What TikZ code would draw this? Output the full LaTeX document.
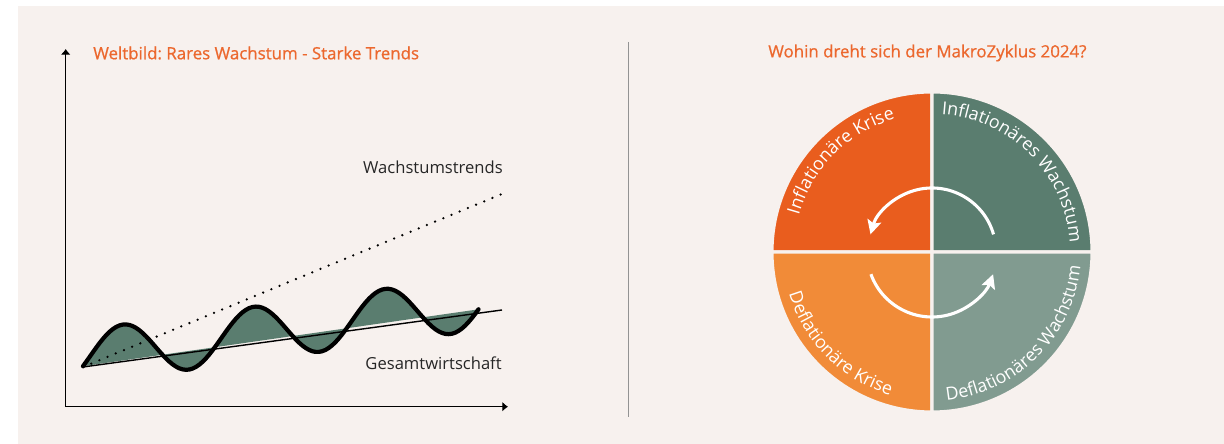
\documentclass[tikz,border=0pt]{standalone}
\usepackage{fontspec}
\setmainfont{Open Sans}
\newfontfamily\headfont[FakeBold=0.8]{Open Sans}
\usetikzlibrary{arrows.meta,decorations.text}
\frenchspacing

\definecolor{paper}{RGB}{247,241,238}
\definecolor{titleorange}{RGB}{236,104,46}
\definecolor{ink}{RGB}{38,38,38}
\definecolor{sage}{RGB}{90,125,111}
\definecolor{crisisred}{RGB}{233,93,30}
\definecolor{crisisorange}{RGB}{241,139,56}
\definecolor{paleSage}{RGB}{129,155,144}

\newcommand\ringfont{\fontsize{12.7}{14}\selectfont\color{white}}

\begin{document}
\begin{tikzpicture}[x=0.025cm, y=0.025cm,
    axis/.style={line width=1pt, -{Latex[length=4pt,width=7pt]}},
    heading/.style={text=titleorange, font=\headfont\fontsize{12}{14}\selectfont, anchor=west, inner sep=0pt},
    caption/.style={text=ink, font=\fontsize{11.8}{14}\selectfont, anchor=east, inner sep=0pt},
    quarter/.style={draw=paper, line width=2.2pt},
    cycle arrow/.style={white, line width=2.2pt, -{Stealth[length=10pt,width=10pt,inset=2pt]}},
    ringtext/.style={decoration={text along path, text align=center, text={|\ringfont|#1}}, decorate}]
  \useasboundingbox (0,0) rectangle (1224,444);
  \fill[paper] (18,0) rectangle (1224,438);

  % left: growth chart
  \coordinate (origin) at (65.7,37.3);
  \coordinate (start) at (83,77);
  \draw[axis] (origin) -- (65.7,395);
  \draw[axis] (origin) -- (508,37.3);
  \fill[sage] plot[domain=83:478.5, samples=120] (\x,{87+0.136*(\x-83)+27*sin(90+2.748*(\x-123))}) -- cycle;
  \draw[line width=1pt] (start) -- (502,134);
  \draw[line width=1.8pt, line cap=round, dash pattern=on 0pt off 6.3pt] (start) -- (502,250);
  \draw[line width=3pt, line cap=round, line join=round] plot[domain=83:478.5, samples=120] (\x,{87+0.136*(\x-83)+27*sin(90+2.748*(\x-123))});
  \node[heading] (charttitle) at (93,391) {Weltbild: Rares Wachstum - Starke Trends};
  \node[caption] (trendlabel) at (503,277) {Wachstumstrends};
  \node[caption] (gdplabel) at (502,81) {Gesamtwirtschaft};

  \draw[gray!85, line width=1.1pt] (628.3,402) -- (628.3,27);

  % right: macro cycle
  \node[heading] (cycletitle) at (768,391) {Wohin dreht sich der MakroZyklus 2024?};
  \coordinate (hub) at (932,192);
  \path[quarter, fill=crisisred] (hub) -- ++(180:160) arc (180:90:160) -- cycle;
  \path[quarter, fill=sage] (hub) -- ++(90:160) arc (90:0:160) -- cycle;
  \path[quarter, fill=crisisorange] (hub) -- ++(180:160) arc (180:270:160) -- cycle;
  \path[quarter, fill=paleSage] (hub) -- ++(270:160) arc (270:360:160) -- cycle;
  \path[ringtext=Inflationäre Krise] ([shift={(180:138)}]hub) arc (180:90:138);
  \path[ringtext=Inflationäres Wachstum] ([shift={(90:138)}]hub) arc (90:0:138);
  \path[ringtext=Deflationäre Krise] ([shift={(180:149)}]hub) arc (180:270:149);
  \path[ringtext=Deflationäres Wachstum] ([shift={(270:149)}]hub) arc (270:360:149);
  \draw[cycle arrow] ([shift={(16:64)}]hub) arc (16:164:64);
  \draw[cycle arrow] ([shift={(200:65)}]hub) arc (200:340:65);
\end{tikzpicture}
\end{document}
